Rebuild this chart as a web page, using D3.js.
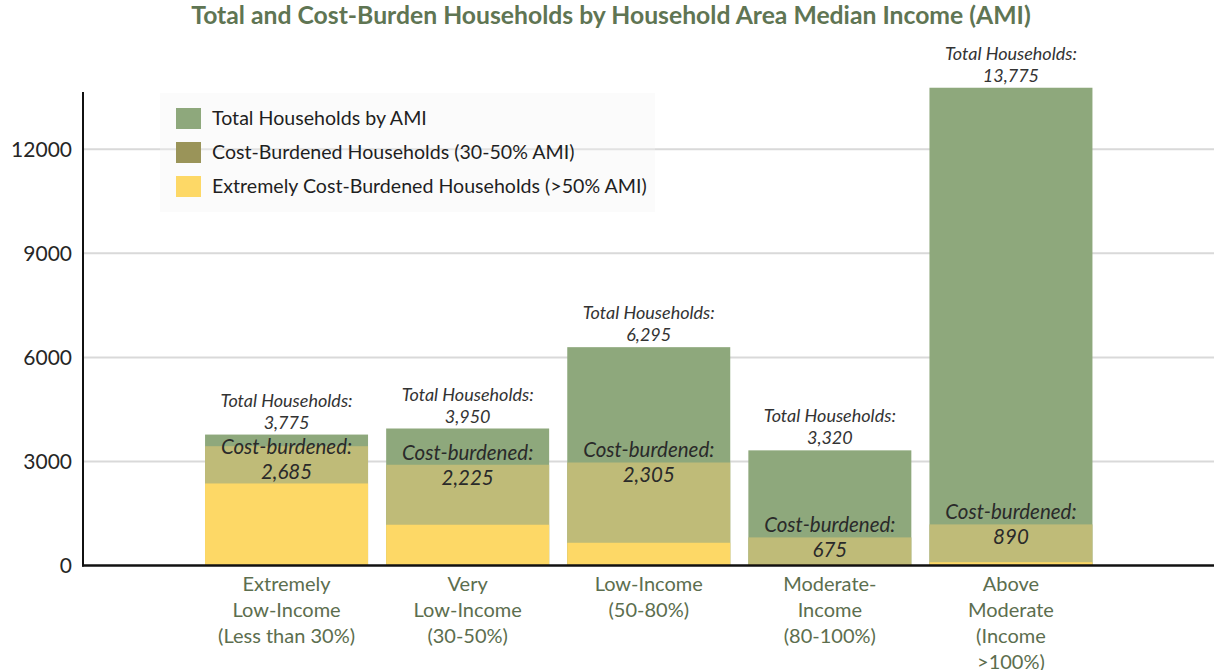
<!DOCTYPE html>
<html><head><meta charset="utf-8">
<script src="https://cdn.jsdelivr.net/npm/d3@7"></script>
<style>
body{margin:0;background:#fff;}
svg{display:block;font-family:Lato, "Open Sans", sans-serif;}
</style></head><body>
<svg id="chart" width="1219" height="670"></svg>
<script>
// ---- data ----
const categories = [
  ["Extremely", "Low-Income", "(Less than 30%)"],
  ["Very", "Low-Income", "(30-50%)"],
  ["Low-Income", "(50-80%)"],
  ["Moderate-", "Income", "(80-100%)"],
  ["Above", "Moderate", "(Income", ">100%)"]
];
const totalHouseholds = [3775, 3950, 6295, 3320, 13775];
const costBurdenedBar = [3440, 2905, 2970, 810, 1185];
const extremelyBurdenedBar = [2365, 1175, 655, 30, 95];
const totalLabels = ["3,775", "3,950", "6,295", "3,320", "13,775"];
const costBurdenedLabels = ["2,685", "2,225", "2,305", "675", "890"];
const yTicks = [0, 3000, 6000, 9000, 12000];
const legendItems = ["Total Households by AMI", "Cost-Burdened Households (30-50% AMI)", "Extremely Cost-Burdened Households (>50% AMI)"];
const title = "Total and Cost-Burden Households by Household Area Median Income (AMI)";

// ---- styles ----
const cGreen = "#8ea87c", cOlive = "#bfbb78", cOliveLegend = "#9a9459", cYellow = "#fdd866";
const legendColors = [cGreen, cOliveLegend, cYellow];

const svg = d3.select("#chart");
const axisX = 83, plotRight = 1214;
const y = d3.scaleLinear().domain([0, 12000]).range([565.5, 149.3]);
const x = d3.scaleBand().domain(d3.range(categories.length)).range([196, 1101.5]).paddingInner(0.1).paddingOuter(0.05);

// gridlines
svg.append("g").selectAll("line").data(yTicks.filter(d => d > 0)).join("line")
  .attr("x1", axisX).attr("x2", plotRight)
  .attr("y1", d => y(d)).attr("y2", d => y(d))
  .attr("stroke", "#d9d9d9").attr("stroke-width", 2);

// y axis labels
const yAxis = d3.axisLeft(y).tickValues(yTicks).tickSize(0).tickPadding(11).tickFormat(d3.format("d"));
const ga = svg.append("g").attr("transform", `translate(${axisX},0)`).call(yAxis);
ga.select(".domain").remove();
ga.selectAll("text").attr("font-size", 21).attr("fill", "#262626").attr("font-family", "Lato, sans-serif");

// legend background
const lg = svg.append("g");
lg.append("rect").attr("x", 160).attr("y", 93).attr("width", 495).attr("height", 119)
  .attr("fill", "#f4f4f4").attr("opacity", 0.35);
legendItems.forEach((t, i) => {
  lg.append("rect").attr("x", 176).attr("y", 108 + i * 34).attr("width", 25).attr("height", 21)
    .attr("fill", legendColors[i]);
  lg.append("text").attr("x", 212).attr("y", 125 + i * 34).attr("font-size", 19.6)
    .attr("fill", "#1f1f1f").text(t);
});

// bars
const bars = svg.append("g");
const layers = [[totalHouseholds, cGreen], [costBurdenedBar, cOlive], [extremelyBurdenedBar, cYellow]];
layers.forEach(([vals, col]) => {
  bars.selectAll(null).data(vals).join("rect")
    .attr("x", (d, i) => x(i)).attr("width", x.bandwidth())
    .attr("y", d => y(d)).attr("height", d => y(0) - y(d))
    .attr("fill", col);
});

// axes lines
svg.append("line").attr("x1", axisX).attr("x2", axisX).attr("y1", 92).attr("y2", y(0) + 1)
  .attr("stroke", "#111").attr("stroke-width", 2);
svg.append("line").attr("x1", axisX - 1).attr("x2", plotRight).attr("y1", y(0)).attr("y2", y(0))
  .attr("stroke", "#111").attr("stroke-width", 2.5);

// total labels
const lab = svg.append("g").attr("font-style", "italic").attr("fill", "#333").attr("text-anchor", "middle");
totalHouseholds.forEach((v, i) => {
  const cx = x(i) + x.bandwidth() / 2;
  lab.append("text").attr("x", cx).attr("y", y(v) - 28).attr("font-size", 18).text("Total Households:");
  lab.append("text").attr("x", cx).attr("y", y(v) - 6).attr("font-size", 18).text(totalLabels[i]);
});
// cost-burdened labels
costBurdenedBar.forEach((v, i) => {
  const cx = x(i) + x.bandwidth() / 2;
  const cy = Math.max(y(v) - 12, y(totalHouseholds[i]) + 12);
  lab.append("text").attr("x", cx).attr("y", cy + 7).attr("font-size", 20.5).attr("fill", "#2a2a2a").text("Cost-burdened:");
  lab.append("text").attr("x", cx).attr("y", cy + 32).attr("font-size", 20.5).attr("fill", "#2a2a2a").text(costBurdenedLabels[i]);
});

// x labels
const xl = svg.append("g").attr("text-anchor", "middle").attr("fill", "#5c6e4e").attr("font-size", 20);
categories.forEach((lines, i) => {
  const cx = x(i) + x.bandwidth() / 2;
  lines.forEach((t, j) => {
    xl.append("text").attr("x", cx).attr("y", 591 + j * 26).text(t);
  });
});

// title
const tt = svg.append("text").attr("x", 611).attr("y", 24).attr("text-anchor", "middle")
  .attr("font-weight", "bold").attr("font-size", 22).attr("fill", "#5f7553").text(title);
const w = tt.node().getComputedTextLength();
tt.attr("font-size", 22 * 840 / w);
</script>
</body></html>
